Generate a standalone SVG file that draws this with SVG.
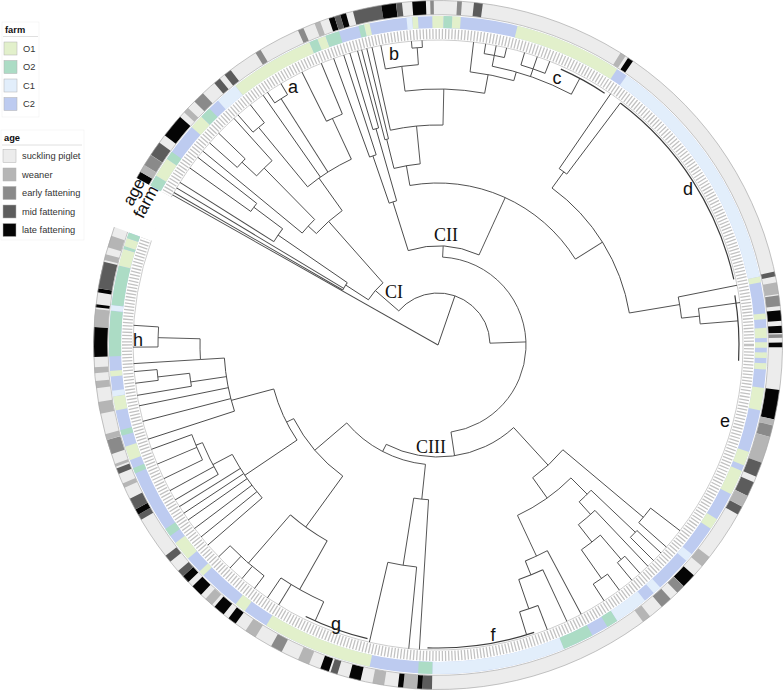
<svg xmlns="http://www.w3.org/2000/svg" width="784" height="692" viewBox="0 0 784 692">
<style>
.t path,.t circle{fill:none;stroke:#4a4a4a;stroke-width:0.9}
.t .dk{stroke:#3c3c3c;stroke-width:1.2}
.t .lt{stroke:#b4b4b4;stroke-width:0.6}
.fr circle{fill:none;stroke-width:12}
.ag circle{fill:none;stroke-width:14}
.O1{stroke:#e2f0cb}.O2{stroke:#acdcc5}.C1{stroke:#e2eefb}.C2{stroke:#bdcbf0}
.S{stroke:#ececec}.W{stroke:#b5b5b5}.E{stroke:#8a8a8a}.M{stroke:#5c5c5c}.L{stroke:#050505}
.k{stroke:#b0b0b0;stroke-width:0.5}
.fO1{fill:#e2f0cb}.fO2{fill:#acdcc5}.fC1{fill:#e2eefb}.fC2{fill:#bdcbf0}
.fS{fill:#ececec}.fW{fill:#b5b5b5}.fE{fill:#8a8a8a}.fM{fill:#5c5c5c}.fL{fill:#050505}
.lg{font-family:"Liberation Sans",Arial,sans-serif;font-size:9.3px;fill:#333}
.lh{font-weight:bold;fill:#111}
.cl{font-family:"Liberation Sans",Arial,sans-serif;font-size:18px;fill:#111;text-anchor:middle;dominant-baseline:central}
.cc{font-family:"Liberation Serif","Times New Roman",serif;font-size:18px;fill:#111;text-anchor:middle;dominant-baseline:central}
.rl{font-family:"Liberation Sans",Arial,sans-serif;font-size:17px;fill:#111;text-anchor:middle;dominant-baseline:central}
</style>
<rect width="784" height="692" fill="#fff"/>

<g id="rings" transform="translate(438,345)">
<g id="tick-ring">
<circle r="311" fill="none" stroke="#c2c2c2" stroke-width="10" stroke-dasharray="1.3 1.9"/>
<circle r="311" fill="none" stroke="#fff" stroke-width="12" pathLength="360" stroke-dasharray="9.1 400" transform="rotate(-160.05)"/>
</g>
<g id="farm-ring" class="fr">
<circle class="C2" r="323" pathLength="360" stroke-dasharray="351 400" transform="rotate(-151)"/>
<circle class="O2" r="323" pathLength="360" stroke-dasharray="2 400" transform="rotate(-151)"/>
<circle class="O1" r="323" pathLength="360" stroke-dasharray="3.5 400" transform="rotate(-149)"/>
<circle class="O2" r="323" pathLength="360" stroke-dasharray="1.5 400" transform="rotate(-145.5)"/>
<circle class="O1" r="323" pathLength="360" stroke-dasharray="2.5 400" transform="rotate(-138.5)"/>
<circle class="O2" r="323" pathLength="360" stroke-dasharray="2 400" transform="rotate(-136)"/>
<circle class="C1" r="323" pathLength="360" stroke-dasharray="4 400" transform="rotate(-132)"/>
<circle class="O1" r="323" pathLength="360" stroke-dasharray="15 400" transform="rotate(-128)"/>
<circle class="O2" r="323" pathLength="360" stroke-dasharray="1.5 400" transform="rotate(-113)"/>
<circle class="O1" r="323" pathLength="360" stroke-dasharray="1.5 400" transform="rotate(-111.5)"/>
<circle class="O2" r="323" pathLength="360" stroke-dasharray="2.5 400" transform="rotate(-110)"/>
<circle class="O2" r="323" pathLength="360" stroke-dasharray="1 400" transform="rotate(-104)"/>
<circle class="O1" r="323" pathLength="360" stroke-dasharray="1 400" transform="rotate(-103)"/>
<circle class="C1" r="323" pathLength="360" stroke-dasharray="1 400" transform="rotate(-95.5)"/>
<circle class="O1" r="323" pathLength="360" stroke-dasharray="1 400" transform="rotate(-94.5)"/>
<circle class="O1" r="323" pathLength="360" stroke-dasharray="2 400" transform="rotate(-91)"/>
<circle class="O2" r="323" pathLength="360" stroke-dasharray="1.5 400" transform="rotate(-89)"/>
<circle class="O1" r="323" pathLength="360" stroke-dasharray="1.5 400" transform="rotate(-87.5)"/>
<circle class="O1" r="323" pathLength="360" stroke-dasharray="19 400" transform="rotate(-76)"/>
<circle class="C1" r="323" pathLength="360" stroke-dasharray="43 400" transform="rotate(-55)"/>
<circle class="O1" r="323" pathLength="360" stroke-dasharray="1 400" transform="rotate(-12)"/>
<circle class="O1" r="323" pathLength="360" stroke-dasharray="1 400" transform="rotate(-5.5)"/>
<circle class="O1" r="323" pathLength="360" stroke-dasharray="1.8 400" transform="rotate(-3)"/>
<circle class="O1" r="323" pathLength="360" stroke-dasharray="1 400" transform="rotate(-0.5)"/>
<circle class="O1" r="323" pathLength="360" stroke-dasharray="1 400" transform="rotate(1.3)"/>
<circle class="O1" r="323" pathLength="360" stroke-dasharray="1.1 400" transform="rotate(3.2)"/>
<circle class="O1" r="323" pathLength="360" stroke-dasharray="4 400" transform="rotate(7.5)"/>
<circle class="O1" r="323" pathLength="360" stroke-dasharray="2.5 400" transform="rotate(19)"/>
<circle class="O1" r="323" pathLength="360" stroke-dasharray="4.5 400" transform="rotate(22.5)"/>
<circle class="O1" r="323" pathLength="360" stroke-dasharray="2 400" transform="rotate(32)"/>
<circle class="C1" r="323" pathLength="360" stroke-dasharray="1.5 400" transform="rotate(39.5)"/>
<circle class="C1" r="323" pathLength="360" stroke-dasharray="1.5 400" transform="rotate(47.5)"/>
<circle class="C1" r="323" pathLength="360" stroke-dasharray="6 400" transform="rotate(51)"/>
<circle class="O2" r="323" pathLength="360" stroke-dasharray="2 400" transform="rotate(57)"/>
<circle class="O2" r="323" pathLength="360" stroke-dasharray="5.5 400" transform="rotate(62)"/>
<circle class="C1" r="323" pathLength="360" stroke-dasharray="23.5 400" transform="rotate(67.5)"/>
<circle class="O2" r="323" pathLength="360" stroke-dasharray="2.5 400" transform="rotate(91)"/>
<circle class="O1" r="323" pathLength="360" stroke-dasharray="19.5 400" transform="rotate(102)"/>
<circle class="O1" r="323" pathLength="360" stroke-dasharray="2 400" transform="rotate(126)"/>
<circle class="O1" r="323" pathLength="360" stroke-dasharray="1 400" transform="rotate(135.5)"/>
<circle class="O1" r="323" pathLength="360" stroke-dasharray="3.5 400" transform="rotate(139.5)"/>
<circle class="O2" r="323" pathLength="360" stroke-dasharray="1.5 400" transform="rotate(144.5)"/>
<circle class="O2" r="323" pathLength="360" stroke-dasharray="1 400" transform="rotate(157)"/>
<circle class="O1" r="323" pathLength="360" stroke-dasharray="2.5 400" transform="rotate(159.5)"/>
<circle class="O2" r="323" pathLength="360" stroke-dasharray="1 400" transform="rotate(164)"/>
<circle class="O1" r="323" pathLength="360" stroke-dasharray="2.5 400" transform="rotate(168.5)"/>
<circle class="C1" r="323" pathLength="360" stroke-dasharray="1 400" transform="rotate(171)"/>
<circle class="O1" r="323" pathLength="360" stroke-dasharray="1 400" transform="rotate(174.5)"/>
<circle class="O2" r="323" pathLength="360" stroke-dasharray="8 400" transform="rotate(178)"/>
<circle class="C1" r="323" pathLength="360" stroke-dasharray="1 400" transform="rotate(186)"/>
<circle class="O2" r="323" pathLength="360" stroke-dasharray="7 400" transform="rotate(187)"/>
<circle class="O1" r="323" pathLength="360" stroke-dasharray="3 400" transform="rotate(194)"/>
<circle class="O2" r="323" pathLength="360" stroke-dasharray="0.5 400" transform="rotate(197)"/>
<circle class="O1" r="323" pathLength="360" stroke-dasharray="1.5 400" transform="rotate(197.5)"/>
<circle class="O2" r="323" pathLength="360" stroke-dasharray="1 400" transform="rotate(199)"/>
</g>
<g id="age-ring" class="ag">
<circle class="S" r="337.5" pathLength="360" stroke-dasharray="351 400" transform="rotate(-151)"/>
<circle class="L" r="337.5" pathLength="360" stroke-dasharray="1.2 400" transform="rotate(-151)"/>
<circle class="W" r="337.5" pathLength="360" stroke-dasharray="1.3 400" transform="rotate(-149.8)"/>
<circle class="E" r="337.5" pathLength="360" stroke-dasharray="2 400" transform="rotate(-148.5)"/>
<circle class="M" r="337.5" pathLength="360" stroke-dasharray="2.5 400" transform="rotate(-146.5)"/>
<circle class="L" r="337.5" pathLength="360" stroke-dasharray="4 400" transform="rotate(-142.5)"/>
<circle class="W" r="337.5" pathLength="360" stroke-dasharray="1 400" transform="rotate(-137.5)"/>
<circle class="E" r="337.5" pathLength="360" stroke-dasharray="2 400" transform="rotate(-135)"/>
<circle class="M" r="337.5" pathLength="360" stroke-dasharray="1.2 400" transform="rotate(-130.5)"/>
<circle class="M" r="337.5" pathLength="360" stroke-dasharray="1.3 400" transform="rotate(-128.3)"/>
<circle class="E" r="337.5" pathLength="360" stroke-dasharray="1 400" transform="rotate(-122)"/>
<circle class="E" r="337.5" pathLength="360" stroke-dasharray="1 400" transform="rotate(-114)"/>
<circle class="W" r="337.5" pathLength="360" stroke-dasharray="1 400" transform="rotate(-111)"/>
<circle class="L" r="337.5" pathLength="360" stroke-dasharray="1 400" transform="rotate(-108.5)"/>
<circle class="M" r="337.5" pathLength="360" stroke-dasharray="1 400" transform="rotate(-107.5)"/>
<circle class="L" r="337.5" pathLength="360" stroke-dasharray="1 400" transform="rotate(-106.5)"/>
<circle class="M" r="337.5" pathLength="360" stroke-dasharray="4.8 400" transform="rotate(-104.3)"/>
<circle class="L" r="337.5" pathLength="360" stroke-dasharray="2.5 400" transform="rotate(-99.5)"/>
<circle class="M" r="337.5" pathLength="360" stroke-dasharray="1 400" transform="rotate(-97)"/>
<circle class="L" r="337.5" pathLength="360" stroke-dasharray="2.3 400" transform="rotate(-94.3)"/>
<circle class="E" r="337.5" pathLength="360" stroke-dasharray="0.6 400" transform="rotate(-91.3)"/>
<circle class="E" r="337.5" pathLength="360" stroke-dasharray="0.8 400" transform="rotate(-86.8)"/>
<circle class="M" r="337.5" pathLength="360" stroke-dasharray="1.5 400" transform="rotate(-84)"/>
<circle class="W" r="337.5" pathLength="360" stroke-dasharray="1 400" transform="rotate(-58)"/>
<circle class="L" r="337.5" pathLength="360" stroke-dasharray="1 400" transform="rotate(-56.5)"/>
<circle class="M" r="337.5" pathLength="360" stroke-dasharray="0.8 400" transform="rotate(-12.3)"/>
<circle class="W" r="337.5" pathLength="360" stroke-dasharray="2 400" transform="rotate(-10.5)"/>
<circle class="E" r="337.5" pathLength="360" stroke-dasharray="1.8 400" transform="rotate(-8.3)"/>
<circle class="L" r="337.5" pathLength="360" stroke-dasharray="1.8 400" transform="rotate(-5.8)"/>
<circle class="L" r="337.5" pathLength="360" stroke-dasharray="1.2 400" transform="rotate(-3.2)"/>
<circle class="E" r="337.5" pathLength="360" stroke-dasharray="0.6 400" transform="rotate(-1.8)"/>
<circle class="L" r="337.5" pathLength="360" stroke-dasharray="0.8 400" transform="rotate(-0.4)"/>
<circle class="L" r="337.5" pathLength="360" stroke-dasharray="5 400" transform="rotate(7.5)"/>
<circle class="W" r="337.5" pathLength="360" stroke-dasharray="1 400" transform="rotate(12.5)"/>
<circle class="E" r="337.5" pathLength="360" stroke-dasharray="2 400" transform="rotate(13.5)"/>
<circle class="W" r="337.5" pathLength="360" stroke-dasharray="4.5 400" transform="rotate(15.5)"/>
<circle class="M" r="337.5" pathLength="360" stroke-dasharray="2.5 400" transform="rotate(20)"/>
<circle class="M" r="337.5" pathLength="360" stroke-dasharray="2.5 400" transform="rotate(23.5)"/>
<circle class="W" r="337.5" pathLength="360" stroke-dasharray="2 400" transform="rotate(26)"/>
<circle class="M" r="337.5" pathLength="360" stroke-dasharray="1.5 400" transform="rotate(28)"/>
<circle class="W" r="337.5" pathLength="360" stroke-dasharray="2 400" transform="rotate(38)"/>
<circle class="L" r="337.5" pathLength="360" stroke-dasharray="2.5 400" transform="rotate(42)"/>
<circle class="E" r="337.5" pathLength="360" stroke-dasharray="1.5 400" transform="rotate(44.5)"/>
<circle class="E" r="337.5" pathLength="360" stroke-dasharray="2 400" transform="rotate(47.5)"/>
<circle class="W" r="337.5" pathLength="360" stroke-dasharray="1.5 400" transform="rotate(52)"/>
<circle class="M" r="337.5" pathLength="360" stroke-dasharray="1.6 400" transform="rotate(91)"/>
<circle class="L" r="337.5" pathLength="360" stroke-dasharray="0.9 400" transform="rotate(92.6)"/>
<circle class="W" r="337.5" pathLength="360" stroke-dasharray="2.3 400" transform="rotate(93.5)"/>
<circle class="L" r="337.5" pathLength="360" stroke-dasharray="0.9 400" transform="rotate(95.8)"/>
<circle class="W" r="337.5" pathLength="360" stroke-dasharray="2 400" transform="rotate(99)"/>
<circle class="L" r="337.5" pathLength="360" stroke-dasharray="2 400" transform="rotate(103)"/>
<circle class="M" r="337.5" pathLength="360" stroke-dasharray="1.2 400" transform="rotate(107)"/>
<circle class="L" r="337.5" pathLength="360" stroke-dasharray="1.5 400" transform="rotate(108.5)"/>
<circle class="W" r="337.5" pathLength="360" stroke-dasharray="2 400" transform="rotate(112)"/>
<circle class="E" r="337.5" pathLength="360" stroke-dasharray="2 400" transform="rotate(117)"/>
<circle class="W" r="337.5" pathLength="360" stroke-dasharray="2 400" transform="rotate(122)"/>
<circle class="L" r="337.5" pathLength="360" stroke-dasharray="1.5 400" transform="rotate(126)"/>
<circle class="L" r="337.5" pathLength="360" stroke-dasharray="2 400" transform="rotate(128.5)"/>
<circle class="W" r="337.5" pathLength="360" stroke-dasharray="1.5 400" transform="rotate(131)"/>
<circle class="L" r="337.5" pathLength="360" stroke-dasharray="2 400" transform="rotate(133.5)"/>
<circle class="L" r="337.5" pathLength="360" stroke-dasharray="1.3 400" transform="rotate(136.5)"/>
<circle class="M" r="337.5" pathLength="360" stroke-dasharray="1.2 400" transform="rotate(137.8)"/>
<circle class="M" r="337.5" pathLength="360" stroke-dasharray="1.3 400" transform="rotate(141)"/>
<circle class="M" r="337.5" pathLength="360" stroke-dasharray="1 400" transform="rotate(149.5)"/>
<circle class="L" r="337.5" pathLength="360" stroke-dasharray="1 400" transform="rotate(150.5)"/>
<circle class="M" r="337.5" pathLength="360" stroke-dasharray="2 400" transform="rotate(151.5)"/>
<circle class="W" r="337.5" pathLength="360" stroke-dasharray="0.8 400" transform="rotate(155.5)"/>
<circle class="M" r="337.5" pathLength="360" stroke-dasharray="1 400" transform="rotate(158)"/>
<circle class="W" r="337.5" pathLength="360" stroke-dasharray="0.5 400" transform="rotate(159.3)"/>
<circle class="E" r="337.5" pathLength="360" stroke-dasharray="2.5 400" transform="rotate(161.5)"/>
<circle class="W" r="337.5" pathLength="360" stroke-dasharray="1 400" transform="rotate(164)"/>
<circle class="W" r="337.5" pathLength="360" stroke-dasharray="2 400" transform="rotate(168.5)"/>
<circle class="W" r="337.5" pathLength="360" stroke-dasharray="1.2 400" transform="rotate(172.8)"/>
<circle class="W" r="337.5" pathLength="360" stroke-dasharray="1 400" transform="rotate(175.3)"/>
<circle class="L" r="337.5" pathLength="360" stroke-dasharray="5 400" transform="rotate(178)"/>
<circle class="W" r="337.5" pathLength="360" stroke-dasharray="3 400" transform="rotate(183)"/>
<circle class="L" r="337.5" pathLength="360" stroke-dasharray="0.5 400" transform="rotate(186.3)"/>
<circle class="L" r="337.5" pathLength="360" stroke-dasharray="0.7 400" transform="rotate(188.8)"/>
<circle class="M" r="337.5" pathLength="360" stroke-dasharray="4.5 400" transform="rotate(189.5)"/>
<circle class="W" r="337.5" pathLength="360" stroke-dasharray="1 400" transform="rotate(194.3)"/>
<circle class="W" r="337.5" pathLength="360" stroke-dasharray="2 400" transform="rotate(196.5)"/>
</g>
<g id="ring-borders" fill="none" stroke="#a6a6a6" stroke-width="0.6">
<circle r="330.3" pathLength="360" stroke-dasharray="351 400" transform="rotate(-151)"/>
<circle r="344.5" pathLength="360" stroke-dasharray="351 400" transform="rotate(-151)"/>
</g>
</g>

<g id="connectors" class="t" transform="translate(438,345)">
<circle class="lt" r="305" pathLength="360" stroke-dasharray="351 400" transform="rotate(-151)"/>
<path d="M0 0H305" transform="rotate(-150.5)"/>
<path d="M0 0H52" transform="rotate(-71)"/>
<circle r="52" pathLength="360" stroke-dasharray="137 400" transform="rotate(-139)"/>
<path d="M52 0H83" transform="rotate(-139)"/>
<circle r="83" pathLength="360" stroke-dasharray="15.5 400" transform="rotate(-147)"/>
<path d="M83 0H110" transform="rotate(-147)"/>
<circle r="110" pathLength="360" stroke-dasharray="4.5 400" transform="rotate(-150)"/>
<path d="M110 0H305" transform="rotate(-150)"/>
<path d="M110 0H305" transform="rotate(-149)"/>
<path d="M110 0H194" transform="rotate(-145.5)"/>
<circle r="194" pathLength="360" stroke-dasharray="4.6 400" transform="rotate(-147.8)"/>
<path d="M194 0H305" transform="rotate(-147.8)"/>
<path d="M194 0H230" transform="rotate(-143.2)"/>
<circle r="230" pathLength="360" stroke-dasharray="2.5 400" transform="rotate(-144.5)"/>
<path d="M230 0H305" transform="rotate(-144.5)"/>
<path d="M230 0H305" transform="rotate(-142)"/>
<path d="M83 0H165" transform="rotate(-131.5)"/>
<circle r="165" pathLength="360" stroke-dasharray="12 400" transform="rotate(-137.5)"/>
<path d="M165 0H176" transform="rotate(-137.5)"/>
<circle r="176" pathLength="360" stroke-dasharray="6 400" transform="rotate(-140.5)"/>
<path d="M176 0H305" transform="rotate(-140.5)"/>
<path d="M176 0H248" transform="rotate(-134.5)"/>
<circle r="248" pathLength="360" stroke-dasharray="5 400" transform="rotate(-137)"/>
<path d="M248 0H268" transform="rotate(-137)"/>
<circle r="268" pathLength="360" stroke-dasharray="2.5 400" transform="rotate(-138.5)"/>
<path d="M268 0H305" transform="rotate(-138.5)"/>
<path d="M268 0H305" transform="rotate(-136)"/>
<path d="M248 0H305" transform="rotate(-132)"/>
<path d="M165 0H205" transform="rotate(-125.5)"/>
<circle r="205" pathLength="360" stroke-dasharray="14.5 400" transform="rotate(-129.5)"/>
<path d="M205 0H282" transform="rotate(-129.5)"/>
<circle r="282" pathLength="360" stroke-dasharray="3 400" transform="rotate(-131)"/>
<path d="M282 0H305" transform="rotate(-131)"/>
<path d="M282 0H305" transform="rotate(-128)"/>
<path d="M205 0H305" transform="rotate(-125)"/>
<path d="M205 0H292" transform="rotate(-122.5)"/>
<circle r="292" pathLength="360" stroke-dasharray="3 400" transform="rotate(-124)"/>
<path d="M292 0H305" transform="rotate(-124)"/>
<path d="M292 0H305" transform="rotate(-121)"/>
<path d="M205 0H250" transform="rotate(-115)"/>
<circle r="250" pathLength="360" stroke-dasharray="4 400" transform="rotate(-116.5)"/>
<path d="M250 0H305" transform="rotate(-116.5)"/>
<path d="M250 0H305" transform="rotate(-112.5)"/>

<path d="M52 0H88" transform="rotate(-2)"/>
<circle r="88" pathLength="360" stroke-dasharray="168.5 400" transform="rotate(-87)"/>
<path d="M88 0H99" transform="rotate(-87)"/>
<circle r="99" pathLength="360" stroke-dasharray="42 400" transform="rotate(-107.5)"/>
<path d="M99 0H150" transform="rotate(-107.5)"/>
<circle r="150" pathLength="360" stroke-dasharray="3 400" transform="rotate(-109)"/>
<path d="M150 0H200" transform="rotate(-109)"/>
<circle r="200" pathLength="360" stroke-dasharray="2 400" transform="rotate(-110)"/>
<path d="M200 0H305" transform="rotate(-110)"/>
<path d="M200 0H305" transform="rotate(-108)"/>
<path d="M150 0H225" transform="rotate(-106)"/>
<circle r="225" pathLength="360" stroke-dasharray="1.5 400" transform="rotate(-106.8)"/>
<path d="M225 0H305" transform="rotate(-106.8)"/>
<path d="M225 0H305" transform="rotate(-105.3)"/>
<path d="M99 0H162" transform="rotate(-65.5)"/>
<circle r="162" pathLength="360" stroke-dasharray="68 400" transform="rotate(-100)"/>
<path d="M162 0H182" transform="rotate(-100)"/>
<circle r="182" pathLength="360" stroke-dasharray="8.4 400" transform="rotate(-104)"/>
<path d="M182 0H212" transform="rotate(-104)"/>
<circle r="212" pathLength="360" stroke-dasharray="1 400" transform="rotate(-104.5)"/>
<path d="M212 0H305" transform="rotate(-104.5)"/>
<path d="M212 0H305" transform="rotate(-103.5)"/>
<path d="M182 0H220" transform="rotate(-95.6)"/>
<circle r="220" pathLength="360" stroke-dasharray="13.8 400" transform="rotate(-102.5)"/>
<path d="M220 0H305" transform="rotate(-102.5)"/>
<path d="M220 0H256" transform="rotate(-88.7)"/>
<circle r="256" pathLength="360" stroke-dasharray="17.9 400" transform="rotate(-97.4)"/>
<path d="M256 0H281" transform="rotate(-97.4)"/>
<circle r="281" pathLength="360" stroke-dasharray="6.8 400" transform="rotate(-100.8)"/>
<path d="M281 0H305" transform="rotate(-100.8)"/>
<path d="M281 0H298" transform="rotate(-94)"/>
<circle r="298" pathLength="360" stroke-dasharray="2 400" transform="rotate(-95)"/>
<path d="M298 0H305" transform="rotate(-95)"/>
<path d="M298 0H305" transform="rotate(-93)"/>
<path d="M256 0H275" transform="rotate(-79.5)"/>
<circle r="275" pathLength="360" stroke-dasharray="9.3 400" transform="rotate(-83.3)"/>
<path d="M275 0H305" transform="rotate(-83.3)"/>
<path d="M275 0H284" transform="rotate(-74)"/>
<circle r="284" pathLength="360" stroke-dasharray="17 400" transform="rotate(-79)"/>
<path d="M284 0H295" transform="rotate(-79)"/>
<circle r="295" pathLength="360" stroke-dasharray="4 400" transform="rotate(-81)"/>
<path d="M295 0H305" transform="rotate(-81)"/>
<path d="M295 0H305" transform="rotate(-79)"/>
<path d="M295 0H305" transform="rotate(-77)"/>
<path d="M284 0H292" transform="rotate(-71)"/>
<circle r="292" pathLength="360" stroke-dasharray="5 400" transform="rotate(-73.5)"/>
<path d="M292 0H305" transform="rotate(-73.5)"/>
<path d="M292 0H305" transform="rotate(-71)"/>
<path d="M292 0H305" transform="rotate(-68.5)"/>
<path d="M284 0H302" transform="rotate(-62)"/>
<circle class="dk" r="302" pathLength="360" stroke-dasharray="9.5 400" transform="rotate(-66)"/>
<path d="M162 0H194" transform="rotate(-32)"/>
<circle r="194" pathLength="360" stroke-dasharray="44.5 400" transform="rotate(-54)"/>
<path d="M194 0H214" transform="rotate(-54)"/>
<circle r="214" pathLength="360" stroke-dasharray="2.5 400" transform="rotate(-55.5)"/>
<path d="M214 0H305" transform="rotate(-55.5)"/>
<path d="M214 0H303" transform="rotate(-53)"/>
<circle class="dk" r="303" pathLength="360" stroke-dasharray="40.5 400" transform="rotate(-53)"/>
<path d="M194 0H245" transform="rotate(-9.5)"/>
<circle r="245" pathLength="360" stroke-dasharray="5 400" transform="rotate(-11.3)"/>
<path d="M245 0H305" transform="rotate(-11.3)"/>
<path d="M245 0H263" transform="rotate(-6.3)"/>
<circle r="263" pathLength="360" stroke-dasharray="3.4 400" transform="rotate(-8)"/>
<path d="M263 0H305" transform="rotate(-8)"/>
<path d="M263 0H301" transform="rotate(-4.6)"/>
<circle class="dk" r="301" pathLength="360" stroke-dasharray="12.5 400" transform="rotate(-9.5)"/>

<path d="M88 0H112" transform="rotate(81.5)"/>
<circle r="112" pathLength="360" stroke-dasharray="70 400" transform="rotate(47.5)"/>
<path d="M112 0H163" transform="rotate(47.5)"/>
<circle r="163" pathLength="360" stroke-dasharray="14.5 400" transform="rotate(40)"/>
<path d="M163 0H268" transform="rotate(40)"/>
<circle r="268" pathLength="360" stroke-dasharray="4 400" transform="rotate(37.5)"/>
<path d="M268 0H305" transform="rotate(37.5)"/>
<path d="M268 0H305" transform="rotate(41.5)"/>
<path d="M163 0H188" transform="rotate(54.5)"/>
<circle r="188" pathLength="360" stroke-dasharray="20 400" transform="rotate(45)"/>
<path d="M188 0H211" transform="rotate(45)"/>
<circle r="211" pathLength="360" stroke-dasharray="4.5 400" transform="rotate(43.5)"/>
<path d="M211 0H272" transform="rotate(43.5)"/>
<circle r="272" pathLength="360" stroke-dasharray="2 400" transform="rotate(43)"/>
<path d="M272 0H305" transform="rotate(43)"/>
<path d="M272 0H305" transform="rotate(45)"/>
<path d="M211 0H228" transform="rotate(48)"/>
<circle r="228" pathLength="360" stroke-dasharray="5.5 400" transform="rotate(46.5)"/>
<path d="M228 0H305" transform="rotate(46.5)"/>
<path d="M228 0H250" transform="rotate(52)"/>
<circle r="250" pathLength="360" stroke-dasharray="5.5 400" transform="rotate(49.5)"/>
<path d="M250 0H282" transform="rotate(49.5)"/>
<circle r="282" pathLength="360" stroke-dasharray="2 400" transform="rotate(48.5)"/>
<path d="M282 0H305" transform="rotate(48.5)"/>
<path d="M282 0H305" transform="rotate(50.5)"/>
<path d="M250 0H285" transform="rotate(55)"/>
<circle r="285" pathLength="360" stroke-dasharray="3.5 400" transform="rotate(53.5)"/>
<path d="M285 0H305" transform="rotate(53.5)"/>
<path d="M285 0H305" transform="rotate(57)"/>
<path d="M188 0H233" transform="rotate(65)"/>
<circle r="233" pathLength="360" stroke-dasharray="6 400" transform="rotate(62)"/>
<path d="M233 0H305" transform="rotate(62)"/>
<path d="M233 0H248" transform="rotate(68)"/>
<circle r="248" pathLength="360" stroke-dasharray="6 400" transform="rotate(65)"/>
<path d="M248 0H305" transform="rotate(65)"/>
<path d="M248 0H279" transform="rotate(71)"/>
<circle r="279" pathLength="360" stroke-dasharray="4 400" transform="rotate(69)"/>
<path d="M279 0H305" transform="rotate(69)"/>
<path d="M279 0H303" transform="rotate(73)"/>
<circle class="dk" r="303" pathLength="360" stroke-dasharray="20.5 400" transform="rotate(71.5)"/>

<path d="M112 0H120" transform="rotate(117.5)"/>
<circle r="120" pathLength="360" stroke-dasharray="43.5 400" transform="rotate(96)"/>
<path d="M120 0H155" transform="rotate(96)"/>
<circle r="155" pathLength="360" stroke-dasharray="5.5 400" transform="rotate(93.5)"/>
<path d="M155 0H305" transform="rotate(93.5)"/>
<path d="M155 0H223" transform="rotate(99)"/>
<circle r="223" pathLength="360" stroke-dasharray="7.5 400" transform="rotate(95.5)"/>
<path d="M223 0H305" transform="rotate(95.5)"/>
<path d="M223 0H305" transform="rotate(103)"/>
<path d="M120 0H162" transform="rotate(139.5)"/>
<circle r="162" pathLength="360" stroke-dasharray="27 400" transform="rotate(126)"/>
<path d="M162 0H225" transform="rotate(126)"/>
<circle r="225" pathLength="360" stroke-dasharray="11.5 400" transform="rotate(119.5)"/>
<path d="M225 0H289" transform="rotate(131)"/>
<circle r="289" pathLength="360" stroke-dasharray="9 400" transform="rotate(127)"/>
<path d="M289 0H305" transform="rotate(127)"/>
<path d="M289 0H305" transform="rotate(130)"/>
<path d="M289 0H305" transform="rotate(133)"/>
<path d="M289 0H305" transform="rotate(136)"/>
<path d="M225 0H281" transform="rotate(119.5)"/>
<circle r="281" pathLength="360" stroke-dasharray="10 400" transform="rotate(114)"/>
<path d="M281 0H305" transform="rotate(124)"/>
<path d="M281 0H305" transform="rotate(121.5)"/>
<path d="M281 0H302" transform="rotate(114)"/>
<circle class="dk" r="302" pathLength="360" stroke-dasharray="12.5 400" transform="rotate(103.5)"/>
<path d="M162 0H170" transform="rotate(153)"/>
<circle r="170" pathLength="360" stroke-dasharray="19 400" transform="rotate(146)"/>
<path d="M170 0H233" transform="rotate(146)"/>
<circle r="233" pathLength="360" stroke-dasharray="13 400" transform="rotate(139)"/>
<path d="M233 0H305" transform="rotate(139)"/>
<path d="M233 0H305" transform="rotate(141)"/>
<path d="M233 0H305" transform="rotate(143)"/>
<path d="M233 0H305" transform="rotate(145)"/>
<path d="M233 0H305" transform="rotate(146.5)"/>
<path d="M233 0H305" transform="rotate(148)"/>
<path d="M233 0H255" transform="rotate(152)"/>
<circle r="255" pathLength="360" stroke-dasharray="8 400" transform="rotate(149.5)"/>
<path d="M255 0H305" transform="rotate(149.5)"/>
<path d="M255 0H305" transform="rotate(151.5)"/>
<path d="M255 0H262" transform="rotate(157.5)"/>
<circle r="262" pathLength="360" stroke-dasharray="6 400" transform="rotate(154)"/>
<path d="M262 0H305" transform="rotate(154)"/>
<path d="M262 0H305" transform="rotate(157)"/>
<path d="M262 0H305" transform="rotate(160)"/>
<path d="M170 0H214" transform="rotate(165)"/>
<circle r="214" pathLength="360" stroke-dasharray="14.5 400" transform="rotate(162)"/>
<path d="M214 0H305" transform="rotate(162)"/>
<path d="M214 0H305" transform="rotate(165.5)"/>
<path d="M214 0H305" transform="rotate(168.5)"/>
<path d="M214 0H250" transform="rotate(171.5)"/>
<circle r="250" pathLength="360" stroke-dasharray="3 400" transform="rotate(170.5)"/>
<path d="M250 0H305" transform="rotate(170.5)"/>
<path d="M250 0H282" transform="rotate(173.5)"/>
<circle r="282" pathLength="360" stroke-dasharray="2.2 400" transform="rotate(172.8)"/>
<path d="M282 0H305" transform="rotate(172.8)"/>
<path d="M282 0H305" transform="rotate(175)"/>
<path d="M214 0H238" transform="rotate(176.5)"/>
<circle r="238" pathLength="360" stroke-dasharray="5 400" transform="rotate(176.5)"/>
<path d="M238 0H305" transform="rotate(176.5)"/>
<path d="M238 0H280" transform="rotate(181.5)"/>
<circle r="280" pathLength="360" stroke-dasharray="4.1 400" transform="rotate(179.6)"/>
<path d="M280 0H305" transform="rotate(179.6)"/>
<path d="M280 0H305" transform="rotate(183.7)"/>
</g>

<g id="clade-labels">
<text id="lbl-a" class="cl" x="293" y="87">a</text>
<text id="lbl-b" class="cl" x="394" y="54">b</text>
<text id="lbl-c" class="cl" x="557" y="78">c</text>
<text id="lbl-d" class="cl" x="688" y="189">d</text>
<text id="lbl-e" class="cl" x="725" y="421">e</text>
<text id="lbl-f" class="cl" x="493" y="635">f</text>
<text id="lbl-g" class="cl" x="336" y="624">g</text>
<text id="lbl-h" class="cl" x="138" y="340">h</text>
<text id="lbl-CI" class="cc" x="394" y="292">CI</text>
<text id="lbl-CII" class="cc" x="446" y="235">CII</text>
<text id="lbl-CIII" class="cc" x="431" y="447">CIII</text>
</g>

<g id="ring-names">
<text class="rl" transform="translate(146,202) rotate(-62)">farm</text>
<text class="rl" transform="translate(134,192) rotate(-62)">age</text>
</g>

<g id="legend-farm">
<rect x="2" y="22" width="37" height="95" fill="#fff" stroke="#f0f0f0" stroke-width="0.6"/>
<text class="lg lh" x="5" y="33.3">farm</text>
<line x1="3" y1="36.5" x2="38" y2="36.5" stroke="#d8d8d8" stroke-width="0.8"/>
<rect class="fO1 k" x="4" y="42" width="13" height="13"/>
<text class="lg" x="23" y="51.8">O1</text>
<rect class="fO2 k" x="4" y="60.5" width="13" height="13"/>
<text class="lg" x="23" y="70.3">O2</text>
<rect class="fC1 k" x="4" y="79" width="13" height="13"/>
<text class="lg" x="23" y="88.8">C1</text>
<rect class="fC2 k" x="4" y="97.5" width="13" height="13"/>
<text class="lg" x="23" y="107.3">C2</text>
</g>

<g id="legend-age">
<rect x="1" y="130" width="83" height="110" fill="#fff" stroke="#f0f0f0" stroke-width="0.6"/>
<text class="lg lh" x="4" y="140.5">age</text>
<line x1="2" y1="145" x2="82" y2="145" stroke="#d8d8d8" stroke-width="0.8"/>
<rect class="fS k" x="3" y="149.5" width="13" height="13"/>
<text class="lg" x="22" y="159.3">suckling piglet</text>
<rect class="fW k" x="3" y="168" width="13" height="13"/>
<text class="lg" x="22" y="177.8">weaner</text>
<rect class="fE k" x="3" y="186.5" width="13" height="13"/>
<text class="lg" x="22" y="196.3">early fattening</text>
<rect class="fM k" x="3" y="205" width="13" height="13"/>
<text class="lg" x="22" y="214.8">mid fattening</text>
<rect class="fL k" x="3" y="223.5" width="13" height="13"/>
<text class="lg" x="22" y="233.3">late fattening</text>
</g>
</svg>
